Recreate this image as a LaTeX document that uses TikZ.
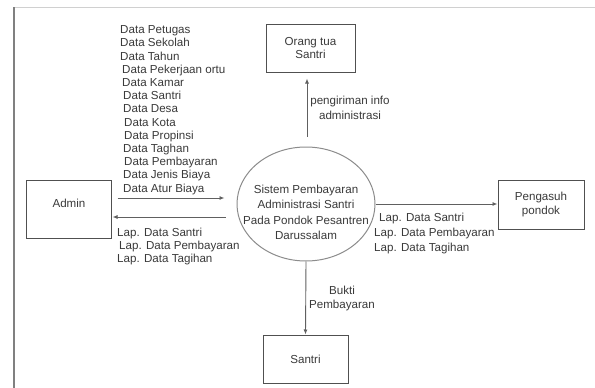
\documentclass[tikz,border=0pt]{standalone}
\usepackage{fontspec}
\setmainfont{Liberation Sans}
\usetikzlibrary{arrows.meta,shapes.geometric,calc}
\definecolor{txt}{HTML}{3A3A3A}
\definecolor{ln}{HTML}{606060}
\definecolor{bx}{HTML}{505050}
\definecolor{el}{HTML}{8C8C8C}
\tikzset{
  box/.style={draw=bx, line width=1pt, rectangle, text=txt, align=center, inner sep=0pt},
  lbl/.style={text=txt, inner sep=0pt},
  arr/.style={draw=ln, line width=0.9pt, -{Latex[length=5pt,width=4pt]}},
}
\begin{document}
\begin{tikzpicture}[x=1pt,y=-1pt,font=\fontsize{11.6}{13.2}\selectfont]
\useasboundingbox (0,0) rectangle (595,388);
\fill[white] (0,0) rectangle (595,388);
% frame
\draw[draw={rgb,255:red,208;green,208;blue,208}, line width=1pt] (14,7) -- (595,7);
\draw[draw={rgb,255:red,128;green,128;blue,128}, line width=1.6pt] (14,7) -- (14,388);

% entities
\node[box, minimum width=85pt, minimum height=58pt, text depth=12pt] (admin) at (69,209) {Admin};
\node[box, minimum width=89pt, minimum height=48pt] (ortu) at (310.5,48) {Orang tua\\[-1pt]Santri};
\node[box, minimum width=86pt, minimum height=49pt] (pengasuh) at (541,204.5) {Pengasuh\\[1pt]pondok};
\node[box, minimum width=85pt, minimum height=48pt] (santri) at (305.5,359) {Santri};

% process
\node[draw=el, line width=1pt, ellipse, minimum width=138pt, minimum height=114pt, inner sep=0pt] (sys) at (306,204) {};
\node[lbl, align=center, font=\fontsize{11.6}{15.3}\selectfont] (systext) at (306,212.5) {Sistem Pembayaran\\Administrasi Santri\\Pada Pondok Pesantren\\Darussalam};

% flows
\draw[arr] ([shift={(5.5,-11)}]admin.east) -- ([shift={(-12,-6)}]sys.west);
\draw[arr] ([shift={(-11,13)}]sys.west) -- ([shift={(0.5,8)}]admin.east);
\draw[arr] (sys.east) -- (sys.east -| pengasuh.west);
\draw[arr] ($(sys.north)+(1,-10)$) -- ($(sys.north |- ortu.south)+(1,6)$);
\draw[arr] (sys.south) -- (santri.north);

% labels
\node[lbl, anchor=north west, align=left] (datalist) at (120,25.5) {Data Petugas\\Data Sekolah\\Data Tahun\\\hspace{2pt}Data Pekerjaan ortu\\\hspace{2pt}Data Kamar\\\hspace{3pt}Data Santri\\\hspace{3pt}Data Desa\\\hspace{4pt}Data Kota\\\hspace{4pt}Data Propinsi\\\hspace{3pt}Data Taghan\\\hspace{4pt}Data Pembayaran\\\hspace{3pt}Data Jenis Biaya\\\hspace{3pt}Data Atur Biaya};
\node[lbl, anchor=north west, align=left] (lapkiri) at (117,227.5) {Lap. Data Santri\\\hspace{2pt}Lap. Data Pembayaran\\Lap. Data Tagihan};
\node[lbl, anchor=north west, align=left, font=\fontsize{11.6}{15}\selectfont] (lapkanan) at (374,212.5) {\hspace{5pt}Lap. Data Santri\\Lap. Data Pembayaran\\Lap. Data Tagihan};
\node[lbl, align=center, font=\fontsize{11.6}{15}\selectfont] (info) at (350,107.5) {pengiriman info\\administrasi};
\node[lbl, align=center] (bukti) at (342,298.5) {Bukti\\Pembayaran};
\end{tikzpicture}
\end{document}
